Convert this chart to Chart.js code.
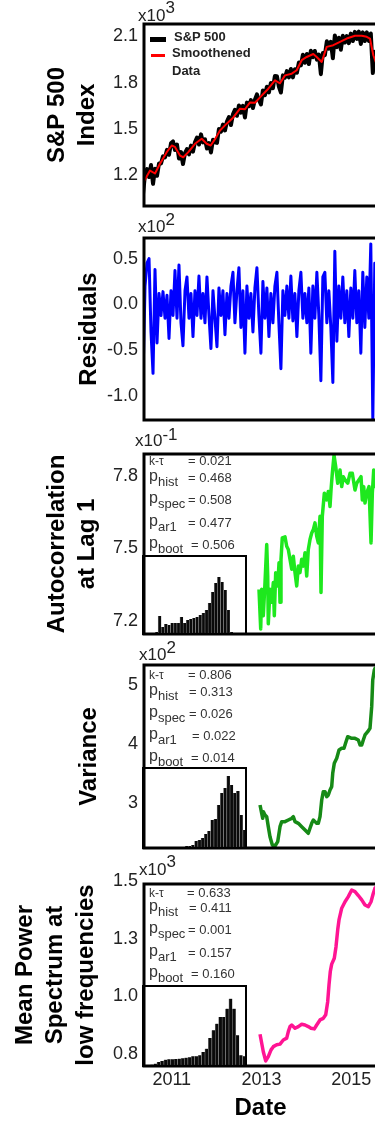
<!DOCTYPE html>
<html><head><meta charset="utf-8">
<script src="https://cdn.jsdelivr.net/npm/chart.js@4.4.1/dist/chart.umd.min.js"></script>
<style>
html,body{margin:0;padding:0;background:#fff;overflow:hidden;}
#fig{position:relative;width:375px;height:1124px;overflow:hidden;background:#fff;font-family:"Liberation Sans",Arial,sans-serif;}
#fig canvas{position:absolute;}
.t{position:absolute;white-space:nowrap;color:#333;}
</style></head><body><div id="fig"></div>
<script>
// ---------------- data ----------------
const xTickValues = [2011, 2013, 2015];
const xTickLabels = ['2011', '2013', '2015'];

const rawDates = [2010.360,2010.405,2010.449,2010.494,2010.538,2010.583,2010.627,2010.672,2010.716,2010.761,
2010.805,2010.850,2010.894,2010.939,2010.983,2011.028,2011.072,2011.117,2011.161,2011.206,
2011.250,2011.295,2011.339,2011.384,2011.428,2011.473,2011.517,2011.562,2011.606,2011.651,
2011.695,2011.740,2011.784,2011.829,2011.873,2011.918,2011.962,2012.007,2012.051,2012.096,
2012.140,2012.185,2012.229,2012.274,2012.318,2012.363,2012.407,2012.452,2012.496,2012.541,
2012.585,2012.630,2012.674,2012.719,2012.763,2012.808,2012.852,2012.897,2012.941,2012.986,
2013.030,2013.075,2013.119,2013.164,2013.208,2013.253,2013.297,2013.342,2013.386,2013.431,
2013.475,2013.520,2013.564,2013.609,2013.653,2013.698,2013.742,2013.787,2013.831,2013.876,
2013.920,2013.965,2014.009,2014.054,2014.098,2014.143,2014.187,2014.232,2014.276,2014.321,
2014.365,2014.410,2014.454,2014.499,2014.543,2014.588,2014.632,2014.677,2014.721,2014.766,
2014.810,2014.855,2014.899,2014.944,2014.988,2015.033,2015.077,2015.122,2015.166,2015.211,
2015.255,2015.300,2015.344,2015.389,2015.433,2015.478,2015.522,2015.567];

const spxRaw = [1.080,1.209,1.242,1.190,1.268,1.146,1.243,1.198,1.278,1.277,
1.324,1.317,1.366,1.334,1.408,1.420,1.365,1.400,1.310,1.351,
1.274,1.344,1.371,1.337,1.393,1.354,1.415,1.445,1.400,1.466,
1.414,1.434,1.374,1.409,1.349,1.431,1.415,1.411,1.500,1.483,
1.529,1.491,1.549,1.578,1.526,1.595,1.624,1.586,1.653,1.606,
1.650,1.575,1.671,1.648,1.687,1.636,1.690,1.724,1.688,1.659,
1.750,1.719,1.774,1.737,1.798,1.764,1.843,1.842,1.775,1.736,
1.847,1.832,1.875,1.834,1.888,1.834,1.887,1.864,1.930,1.911,
1.980,1.929,1.985,1.920,2.006,1.964,2.005,1.949,1.981,1.855,
1.991,1.978,2.067,2.020,2.064,1.957,2.105,2.029,2.090,2.013,
2.103,2.059,2.101,2.055,2.117,2.069,2.128,2.083,2.130,2.050,
2.125,2.069,2.125,2.070,2.118,1.862,1.999,1.900];

const smoothDates = [2010.371,2010.516,2010.627,2010.738,2010.888,2010.999,2011.072,2011.184,2011.257,2011.369,
2011.518,2011.667,2011.778,2011.867,2011.963,2012.074,2012.224,2012.371,2012.520,2012.631,
2012.743,2012.854,2012.965,2013.150,2013.299,2013.411,2013.522,2013.672,2013.783,2013.894,
2014.006,2014.153,2014.228,2014.340,2014.451,2014.598,2014.747,2014.896,2015.081,2015.231,
2015.342,2015.415,2015.489,2015.549];
const spxSmooth = [1.157,1.232,1.213,1.276,1.351,1.394,1.385,1.329,1.318,1.351,
1.405,1.438,1.405,1.394,1.435,1.491,1.535,1.575,1.632,1.628,
1.672,1.670,1.705,1.761,1.815,1.796,1.847,1.858,1.880,1.945,
1.966,1.985,1.966,1.934,2.031,2.042,2.063,2.085,2.103,2.103,
2.096,2.085,1.977,1.930];

const residuals = [-0.80,0.20,0.45,0.50,-0.30,-0.75,0.38,-0.42,0.12,-0.12,
0.14,-0.15,0.10,-0.37,0.15,-0.12,0.37,-0.15,0.43,-0.20,
-0.45,0.15,0.30,-0.15,0.12,-0.35,0.15,-0.12,0.31,-0.15,
0.12,-0.20,0.30,-0.12,-0.48,0.15,-0.15,-0.46,0.18,-0.12,
0.15,-0.33,0.12,-0.15,0.20,0.35,-0.20,0.15,0.40,-0.25,
0.15,-0.53,0.20,-0.15,0.12,-0.30,0.18,0.40,-0.12,-0.53,
0.25,-0.15,0.18,-0.35,0.12,-0.20,0.20,0.35,-0.20,-0.70,
0.15,-0.12,0.20,-0.15,0.31,-0.18,0.12,-0.35,0.15,0.35,
-0.15,0.12,-0.20,0.18,-0.53,0.20,-0.15,0.35,-0.12,-0.83,
0.30,0.35,-0.20,0.15,-0.25,-0.85,0.58,-0.40,0.20,-0.15,
0.30,-0.20,0.15,-0.35,0.18,-0.15,0.37,-0.20,0.15,-0.53,
0.35,-0.25,0.30,-0.15,0.66,-1.25,0.45,-0.30];

const acfDates = [2012.943,2012.981,2013.003,2013.039,2013.077,2013.115,2013.137,2013.150,2013.188,2013.226,
2013.262,2013.284,2013.315,2013.360,2013.389,2013.411,2013.433,2013.462,2013.522,2013.560,
2013.596,2013.634,2013.672,2013.707,2013.745,2013.783,2013.819,2013.856,2013.894,2013.930,
2013.968,2014.006,2014.041,2014.079,2014.117,2014.153,2014.190,2014.228,2014.264,2014.302,
2014.324,2014.353,2014.398,2014.451,2014.487,2014.525,2014.547,2014.576,2014.614,2014.652,
2014.696,2014.747,2014.785,2014.821,2014.859,2014.919,2014.970,2015.021,2015.081,2015.119,
2015.170,2015.215,2015.244,2015.275,2015.304,2015.342,2015.393,2015.438,2015.467,2015.498,
2015.527,2015.571];
const acfValues = [7.331,7.167,7.331,7.222,7.359,7.516,7.386,7.188,7.331,7.277,
7.359,7.222,7.400,7.345,7.441,7.277,7.455,7.544,7.548,7.509,
7.496,7.455,7.414,7.468,7.400,7.345,7.427,7.400,7.455,7.427,
7.482,7.386,7.496,7.537,7.564,7.578,7.606,7.551,7.523,7.633,
7.318,7.633,7.729,7.701,7.736,7.674,7.742,7.811,7.886,7.838,
7.770,7.825,7.756,7.797,7.784,7.770,7.811,7.811,7.742,7.770,
7.784,7.797,7.701,7.756,7.688,7.729,7.756,7.523,7.729,7.825,
7.756,7.800];

const varDates = [2012.966,2013.003,2013.026,2013.039,2013.077,2013.115,2013.150,2013.188,2013.240,2013.300,
2013.360,2013.411,2013.449,2013.522,2013.596,2013.672,2013.707,2013.745,2013.819,2013.894,
2013.968,2014.041,2014.079,2014.117,2014.153,2014.190,2014.228,2014.264,2014.302,2014.340,
2014.375,2014.413,2014.451,2014.487,2014.525,2014.562,2014.585,2014.620,2014.674,2014.725,
2014.785,2014.836,2014.881,2014.919,2015.008,2015.081,2015.155,2015.193,2015.231,2015.266,
2015.304,2015.364,2015.415,2015.453,2015.476,2015.511,2015.527,2015.571];
const varValues = [2.966,2.825,2.740,2.853,2.797,2.768,2.599,2.429,2.288,2.271,
2.345,2.599,2.684,2.684,2.712,2.740,2.768,2.684,2.655,2.599,
2.542,2.486,2.571,2.655,2.712,2.684,2.655,2.655,2.768,3.051,
3.192,3.192,3.107,3.136,3.220,3.277,3.503,3.673,3.758,3.898,
3.927,3.927,4.039,4.124,4.096,4.096,4.068,3.983,3.983,4.068,
4.153,4.209,4.266,4.633,5.085,5.254,5.282,5.300];

const psdDates = [2012.966,2013.039,2013.092,2013.150,2013.211,2013.262,2013.337,2013.411,2013.484,2013.560,
2013.596,2013.634,2013.672,2013.745,2013.819,2013.894,2013.968,2014.041,2014.101,2014.175,
2014.228,2014.302,2014.375,2014.429,2014.473,2014.502,2014.531,2014.562,2014.620,2014.658,
2014.696,2014.725,2014.785,2014.859,2014.932,2015.008,2015.081,2015.155,2015.231,2015.304,
2015.378,2015.438,2015.489,2015.527,2015.571];
const psdValues = [0.836,0.760,0.720,0.739,0.768,0.782,0.790,0.793,0.811,0.819,
0.847,0.869,0.876,0.862,0.869,0.879,0.876,0.869,0.862,0.859,
0.876,0.898,0.905,0.920,0.977,1.050,1.108,1.140,1.166,1.216,
1.289,1.332,1.383,1.411,1.433,1.462,1.455,1.438,1.419,1.397,
1.390,1.411,1.448,1.470,1.478];

const acfHist = [2,18,7,10,9,11,11,11,17,11,14,15,16,17,19,21,24,31,42,51,57,52,44,24,2];
const varHist = [1,2,2,3,7,8,10,14,17,28,29,43,55,60,72,63,55,57,33,18];
const psdHist = [0.7,1.3,2.3,4,5,6.3,6.7,6.7,7,7.3,7.7,8.3,8.7,9.7,9.7,10.7,14,17.3,28,35.7,42.3,49,49,57.3,67.3,57.3,30.7,10.7,9.7];

const statNames = ['k-τ', 'hist', 'spec', 'ar1', 'boot'];
const acfStats = ['0.021', '0.468', '0.508', '0.477', '0.506'];
const varStats = ['0.806', '0.313', '0.026', '0.022', '0.014'];
const psdStats = ['0.633', '0.411', '0.001', '0.157', '0.160'];

const spxTicks = [1.2, 1.5, 1.8, 2.1];      const spxTickLabels = ['1.2', '1.5', '1.8', '2.1'];
const resTicks = [-1.0, -0.5, 0.0, 0.5];    const resTickLabels = ['-1.0', '-0.5', '0.0', '0.5'];
const acfTicks = [7.2, 7.5, 7.8];           const acfTickLabels = ['7.2', '7.5', '7.8'];
const varTicks = [3, 4, 5];                 const varTickLabels = ['3', '4', '5'];
const psdTicks = [0.75, 1.0, 1.25, 1.5];    const psdTickLabels = ['0.8', '1.0', '1.3', '1.5'];

// ---------------- drawing ----------------
const FONT = '"Liberation Sans", Arial, sans-serif';
Chart.defaults.font.family = FONT;
const fig = document.getElementById('fig');
const W = 380, X_MIN = 2010.382, X_MAX = 2015.571;
const pts = (xs, ys) => xs.map((x, i) => ({x: x, y: ys[i]}));

const boxPlugin = {id: 'box', afterDatasetsDraw(chart) {
  const {ctx, chartArea: a} = chart;
  ctx.save(); ctx.strokeStyle = '#000'; ctx.lineWidth = 3;
  ctx.strokeRect(a.left, a.top, a.right - a.left, a.bottom - a.top); ctx.restore();
}};

function makeCanvas(left, top, w, h) {
  const c = document.createElement('canvas');
  c.width = w; c.height = h;
  c.style.left = left + 'px'; c.style.top = top + 'px';
  c.style.width = w + 'px'; c.style.height = h + 'px';
  fig.appendChild(c);
  return c;
}

function panel(cfg) {
  const c = makeCanvas(0, cfg.top, W, cfg.h);
  return new Chart(c, {
    type: 'line',
    data: {datasets: cfg.datasets},
    options: {
      responsive: false, animation: false, devicePixelRatio: 1,
      layout: {padding: {left: 0, right: 3, top: cfg.padTop, bottom: cfg.padBottom}},
      plugins: {legend: {display: false}, tooltip: {enabled: false}},
      elements: {point: {radius: 0}, line: {tension: 0, borderJoinStyle: 'round', borderCapStyle: 'butt'}},
      scales: {
        x: {type: 'linear', min: X_MIN, max: X_MAX, display: !!cfg.showX,
          grid: {display: false, drawTicks: false}, border: {display: false},
          afterBuildTicks: s => { s.ticks = xTickValues.map(v => ({value: v})); },
          ticks: {padding: 3, font: {size: 18}, color: '#222', maxRotation: 0, autoSkip: false,
                  callback: (v, i) => xTickLabels[i]},
          title: {display: !!cfg.showX, text: 'Date', color: '#000',
                  font: {size: 24, weight: 'bold', lineHeight: 1.2}, padding: {top: 0, bottom: 1.6}},
          afterFit: s => { s.height = cfg.showX ? 58 : 0; s.paddingLeft = 0; s.paddingRight = 0; }
        },
        y: {type: 'linear', min: cfg.yMin, max: cfg.yMax,
          grid: {display: false, drawTicks: false}, border: {display: false},
          afterBuildTicks: s => { s.ticks = cfg.ticks.map(v => ({value: v})); },
          ticks: {padding: 6, font: {size: 18}, color: '#222', autoSkip: false,
                  callback: (v, i) => cfg.tickLabels[i]},
          title: {display: true, text: cfg.title, color: '#000',
                  font: {size: 24, weight: 'bold', lineHeight: 1.28}, padding: {top: cfg.titlePad, bottom: 0}},
          afterFit: s => { s.width = 144; s.paddingTop = 0; s.paddingBottom = 0; }
        }
      }
    },
    plugins: [boxPlugin]
  });
}

const rawSet = {label: 'S&P 500', data: pts(rawDates, spxRaw), borderColor: '#000', borderWidth: 4, order: 2};
const smoothSet = {label: 'Smoothened Data', data: pts(smoothDates, spxSmooth), borderColor: '#ff0000', borderWidth: 2, order: 1};

panel({top: 0, h: 215, padTop: 24, padBottom: 9, yMin: 1.003, yMax: 2.179,
  ticks: spxTicks, tickLabels: spxTickLabels, title: ['S&P 500', 'Index'], titlePad: 41.6,
  datasets: [smoothSet, rawSet]});
panel({top: 215, h: 215, padTop: 23, padBottom: 10, yMin: -1.258, yMax: 0.724,
  ticks: resTicks, tickLabels: resTickLabels, title: 'Residuals', titlePad: 73.6,
  datasets: [{label: 'Residuals', data: pts(rawDates, residuals), borderColor: '#0000ff', borderWidth: 3}]});
panel({top: 430, h: 215, padTop: 24, padBottom: 11, yMin: 7.146, yMax: 7.891,
  ticks: acfTicks, tickLabels: acfTickLabels, title: ['Autocorrelation', 'at Lag 1'], titlePad: 41.6,
  datasets: [{label: 'AR(1)', data: pts(acfDates, acfValues), borderColor: '#1ee81e', borderWidth: 3.5}]});
panel({top: 645, h: 210, padTop: 20, padBottom: 7, yMin: 2.237, yMax: 5.339,
  ticks: varTicks, tickLabels: varTickLabels, title: 'Variance', titlePad: 73.6,
  datasets: [{label: 'Variance', data: pts(varDates, varValues), borderColor: '#168a16', borderWidth: 3.5}]});
panel({top: 855, h: 269, padTop: 29, padBottom: 0, yMin: 0.698, yMax: 1.488, showX: true,
  ticks: psdTicks, tickLabels: psdTickLabels, title: ['Mean Power', 'Spectrum at', 'low frequencies'], titlePad: 9.6,
  datasets: [{label: 'Power spectrum', data: pts(psdDates, psdValues), borderColor: '#ff1493', borderWidth: 3.5}]});

// inset histograms
function inset(top, bottom, counts, padL, padR) {
  const h = bottom - top + 2;
  const c = makeCanvas(142, top - 1, 105, h);
  new Chart(c, {
    type: 'bar',
    data: {labels: counts.map((_, i) => String(i + 1)),
      datasets: [{data: counts, backgroundColor: '#0a0a0a', borderColor: '#777',
        borderWidth: {left: 0.7, right: 0, top: 0, bottom: 0}, borderSkipped: false,
        barPercentage: 1, categoryPercentage: 1}]},
    options: {responsive: false, animation: false, devicePixelRatio: 1,
      layout: {padding: {left: padL, right: padR, top: 1, bottom: 1}},
      plugins: {legend: {display: false}, tooltip: {enabled: false}},
      scales: {x: {display: false, offset: true}, y: {display: false, min: 0, max: h - 2}}},
    plugins: [{id: 'frame', afterDraw(ch) {
      const ctx = ch.ctx; ctx.save(); ctx.strokeStyle = '#000'; ctx.lineWidth = 2;
      ctx.strokeRect(1, 1, ch.width - 2, ch.height - 2); ctx.restore(); }}]
  });
}
inset(556, 634, acfHist, 13, 14);
inset(768, 848, varHist, 39.7, 1);
inset(986, 1066, psdHist, 4.7, 1);

// ---------------- text overlays ----------------
function addText(html, left, top, css) {
  const d = document.createElement('div');
  d.className = 't'; d.innerHTML = html;
  d.style.left = left + 'px'; d.style.top = top + 'px';
  Object.assign(d.style, css || {});
  fig.appendChild(d);
  return d;
}
// exponent labels
const expCss = {fontSize: '17px', lineHeight: '17px', color: '#222'};
[[7, 138, '3', 8], [218, 138, '2', 7], [431.6, 135, '-1', 5.5], [645.6, 139, '2', 6.5], [861.3, 139, '3', 8]]
  .forEach(([t, l, e, r]) => addText('x10<span style="position:relative;top:-' + r + 'px">' + e + '</span>', l, t, expCss));

// legend (panel 1)
function sample(left, cy, w, th, color) {
  const d = document.createElement('div');
  Object.assign(d.style, {position: 'absolute', left: left + 'px', top: (cy - th / 2) + 'px',
    width: w + 'px', height: th + 'px', background: color});
  fig.appendChild(d);
}
sample(150, 39, 16, 5, rawSet.borderColor);
sample(151, 55.3, 14, 2.5, smoothSet.borderColor);
addText(rawSet.label, 174, 29.5, {fontSize: '13px', lineHeight: '13px', fontWeight: 'bold', color: '#222'});
addText(smoothSet.label.replace(' ', '<br>'), 172, 44.25, {fontSize: '13px', lineHeight: '17.5px', fontWeight: 'bold', color: '#222'});

// statistics text in the three indicator panels
function stats(values, baselines, valueLefts) {
  values.forEach((v, i) => {
    const b = baselines[i];
    if (i === 0) {
      addText(statNames[0], 149, b - 10.16, {fontSize: '12px', lineHeight: '12px'});
    } else {
      addText('p<span style="font-size:13px;position:relative;top:5px">' + statNames[i] + '</span>', 149, b - 13.54,
        {fontSize: '16px', lineHeight: '16px'});
    }
    addText('= ' + v, valueLefts[i], b - 11.0, {fontSize: '13px', lineHeight: '13px'});
  });
}
stats(acfStats, [465, 482, 504, 527, 549], [188, 188, 188, 188, 191]);
stats(varStats, [679, 696, 718, 740, 762], [188, 189, 189, 192, 191]);
stats(psdStats, [897, 912, 934, 957, 978], [187, 189, 188, 188, 191]);
</script></body></html>
